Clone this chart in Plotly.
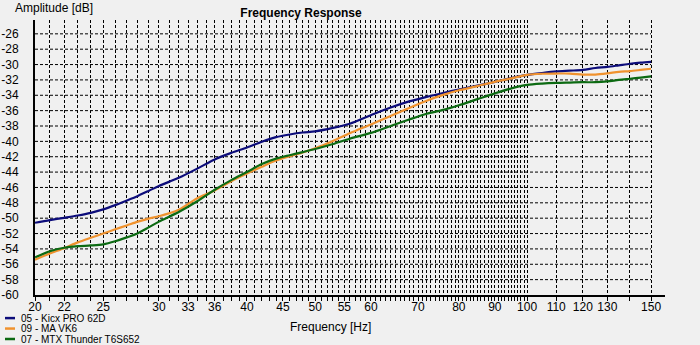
import math
import plotly.graph_objects as go

# ---------------- data ----------------
freq_hz = [20, 21, 22, 23, 24, 25, 26, 27, 28, 29, 30, 32, 34, 36, 38, 40, 42, 44, 46, 48,
           50, 53, 56, 60, 64, 68, 72, 76, 80, 85, 90, 95, 100, 105, 110, 115, 120, 125,
           130, 135, 140, 145, 150]

kicx_db = [-50.6, -50.25, -49.95, -49.65, -49.3, -48.85, -48.3, -47.7, -47.1, -46.45, -45.8,
           -44.75, -43.55, -42.35, -41.5, -40.8, -40.05, -39.45, -39.1, -38.85, -38.7,
           -38.25, -37.7, -36.6, -35.6, -34.8, -34.2, -33.7, -33.25, -32.75, -32.25,
           -31.75, -31.35, -31.1, -30.9, -30.8, -30.7, -30.45, -30.3, -30.1, -29.9,
           -29.75, -29.65]

mavk6_db = [-55.4, -54.6, -53.9, -53.15, -52.55, -52.0, -51.45, -50.95, -50.45, -50.05,
            -49.75, -48.9, -47.4, -46.4, -45.2, -44.2, -43.3, -42.5, -41.95, -41.45,
            -40.9, -39.95, -38.95, -37.8, -36.7, -35.65, -34.7, -33.95, -33.35, -32.8,
            -32.25, -31.8, -31.35, -31.2, -31.17, -31.17, -31.3, -31.3, -31.15, -30.95,
            -30.85, -30.7, -30.55]

mtx_db = [-55.1, -54.3, -53.85, -53.65, -53.55, -53.4, -53.0, -52.5, -51.95, -51.2,
          -50.45, -49.2, -47.8, -46.3, -45.05, -44.0, -42.95, -42.25, -41.8, -41.4,
          -41.0, -40.35, -39.65, -38.9, -38.0, -37.15, -36.4, -35.9, -35.3, -34.5,
          -33.75, -33.1, -32.65, -32.47, -32.38, -32.34, -32.3, -32.3, -32.2, -32.0,
          -31.85, -31.7, -31.55]

series_names = ["05 - Kicx PRO 62D", "09 - MA VK6", "07 - MTX Thunder T6S652"]
series_values = [kicx_db, mavk6_db, mtx_db]
series_colors = ["#0c0c7a", "#f0922e", "#0c6a12"]

x_grid_hz = list(range(20, 101)) + [110, 120, 130, 140, 150]
x_label_hz = [20, 22, 25, 30, 33, 36, 40, 45, 50, 55, 60, 70, 80, 90, 100, 110, 120, 130, 150]
y_ticks_db = list(range(-60, -25, 2))
y_grid_db = list(range(-58, -25, 2))

X_MIN, X_MAX = 20, 157
Y_MIN, Y_MAX = -60, -24.2

FONT = "Liberation Sans"

fig = go.Figure()
for name, vals, col in zip(series_names, series_values, series_colors):
    fig.add_trace(go.Scatter(
        x=freq_hz, y=vals, mode="lines", name=name,
        line=dict(color=col, width=2.2, shape="spline", smoothing=0.8),
        showlegend=False, hoverinfo="skip"))

# horizontal dashed grid lines from 20 Hz to 150 Hz
span = math.log10(X_MAX) - math.log10(X_MIN)
x_end_frac = (math.log10(max(x_grid_hz)) - math.log10(X_MIN)) / span
for yv in y_grid_db:
    fig.add_shape(type="line", xref="paper", yref="y", x0=0, x1=x_end_frac, y0=yv, y1=yv,
                  line=dict(color="black", width=1, dash="3px,2px"), layer="below")

# custom legend (bottom-left)
legend_rows_y = [-0.084, -0.122, -0.16]
for name, col, ly in zip(series_names, series_colors, legend_rows_y):
    fig.add_shape(type="line", xref="paper", yref="paper", x0=-0.0476, x1=-0.0317,
                  y0=ly, y1=ly, line=dict(color=col, width=2.5))
    fig.add_annotation(xref="paper", yref="paper", x=-0.0254, y=ly, text=name,
                       showarrow=False, xanchor="left", yanchor="middle",
                       font=dict(family=FONT, size=10, color="black"))

fig.add_annotation(xref="paper", yref="paper", x=-0.0354, y=1.042, text="Amplitude [dB]",
                   showarrow=False, xanchor="left", yanchor="middle",
                   font=dict(family=FONT, size=12, color="black"))
fig.add_annotation(xref="paper", yref="paper", x=0.469, y=-0.1175, text="Frequency [Hz]",
                   showarrow=False, xanchor="center", yanchor="middle",
                   font=dict(family=FONT, size=12, color="black"))

fig.update_layout(
    width=700, height=345,
    margin=dict(l=35, r=35, t=20, b=50, autoexpand=False),
    paper_bgcolor="#f0f0f0", plot_bgcolor="#f0f0f0",
    title=dict(text="<b>Frequency Response</b>", x=0.43, xref="container", xanchor="center",
               y=1 - 12.5 / 345, yref="container", yanchor="middle",
               font=dict(family=FONT, size=12, color="black")),
    font=dict(family=FONT, size=12, color="black"),
    showlegend=False,
)

fig.update_xaxes(
    type="log", range=[math.log10(X_MIN), math.log10(X_MAX)], automargin=False,
    tickmode="array", tickvals=x_grid_hz,
    ticktext=[str(v) if v in x_label_hz else "" for v in x_grid_hz],
    showgrid=True, gridcolor="black", gridwidth=1, griddash="3px,2px",
    showline=True, linecolor="black", linewidth=2,
    ticks="outside", ticklen=4, tickcolor="black", tickwidth=1,
    ticklabelstandoff=-4,
    tickfont=dict(family=FONT, size=12, color="black"), zeroline=False,
)
fig.update_yaxes(
    range=[Y_MIN, Y_MAX], automargin=False, tickmode="array", tickvals=y_ticks_db,
    ticktext=[str(v) for v in y_ticks_db],
    showgrid=False, zeroline=False,
    showline=True, linecolor="black", linewidth=2,
    ticks="", ticklabelstandoff=12,
    tickfont=dict(family=FONT, size=12, color="black"),
)

fig.write_html("out.html")
